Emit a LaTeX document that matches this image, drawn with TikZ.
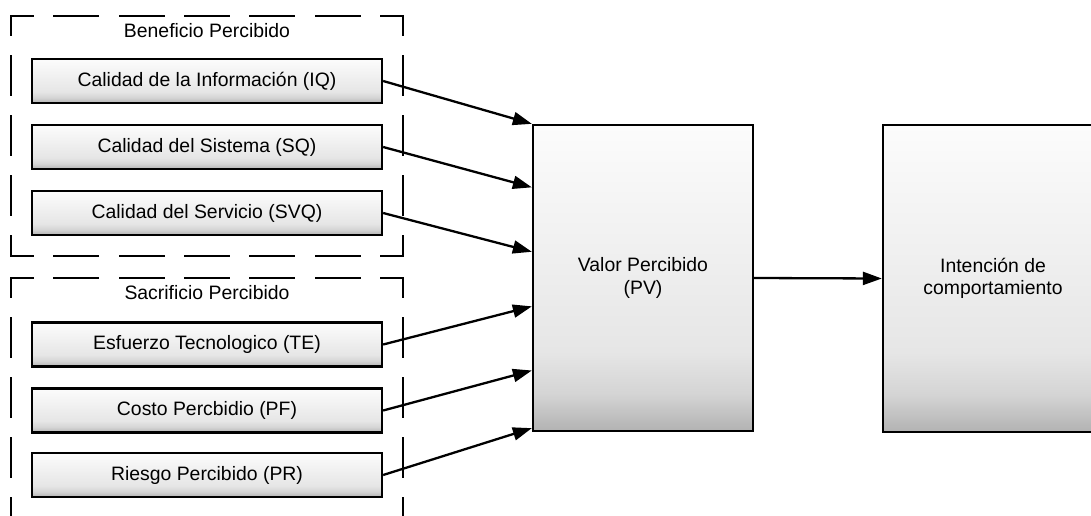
\documentclass[tikz,border=0pt]{standalone}
\usepackage{fontspec}
\setmainfont{Liberation Sans}
\usetikzlibrary{arrows.meta,calc}

% box fill: white on top, light grey body, darker grey towards the bottom
\definecolor{shadeBottom}{HTML}{B2B2B2}
\definecolor{shadeLow}{HTML}{D4D4D4}
\definecolor{shadeMid}{HTML}{E6E6E6}
\definecolor{shadeTop}{HTML}{FCFCFC}
\pgfdeclareverticalshading{boxshade}{100bp}{%
  color(0bp)=(shadeBottom); color(25bp)=(shadeBottom);
  color(31bp)=(shadeLow); color(38bp)=(shadeMid);
  color(75bp)=(shadeTop); color(100bp)=(shadeTop)}

\newcommand\boxfont{\fontsize{19.4pt}{22.5pt}\selectfont}

\tikzset{
  factor/.style={draw, line width=2.3pt, shading=boxshade, inner sep=0pt,
    minimum width=350pt, minimum height=44pt, font=\boxfont},
  bigbox/.style={draw, line width=2.3pt, shading=boxshade, inner sep=0pt,
    minimum width=220pt, minimum height=306pt, align=center, font=\boxfont},
  frame/.style={inner sep=0pt, minimum width=392pt, minimum height=240pt},
  hside/.style={line width=2.3pt, line cap=rect,
    dash pattern=on 43.6pt off 21.8pt, dash phase=21.8pt},
  vside/.style={line width=2.3pt, line cap=rect,
    dash pattern=on 39pt off 21pt, dash phase=19.5pt},
  grouptitle/.style={font=\boxfont, inner sep=0pt},
  link/.style={line width=2.3pt, -{Triangle[length=19pt,width=13pt]}}
}

\begin{document}
\begin{tikzpicture}[x=1pt,y=-1pt]
  \useasboundingbox (0,0) rectangle (1091,516);
  \clip (0,0) rectangle (1091,516);

  % dashed group frames
  \node[frame] (benefit) at (207,136) {};
  \node[frame, minimum height=241pt] (sacrifice) at (207,398.5) {};
  \foreach \g in {benefit,sacrifice}{
    \draw[hside] (\g.north west) -- (\g.north east);
    \draw[hside] (\g.south west) -- (\g.south east);
    \draw[vside] (\g.north west) -- (\g.south west);
    \draw[vside] (\g.north east) -- (\g.south east);
  }
  \node[grouptitle] (benefitTitle) at (207,31) {Beneficio Percibido};
  \node[grouptitle] (sacrificeTitle) at (207,293) {Sacrificio Percibido};

  % factor boxes
  \node[factor] (iq)  at (207,81)    {Calidad de la Información (IQ)};
  \node[factor] (sq)  at (207,147)   {Calidad del Sistema (SQ)};
  \node[factor] (svq) at (207,213)   {Calidad del Servicio (SVQ)};
  \node[factor] (te)  at (207,344.5) {Esfuerzo Tecnologico (TE)};
  \node[factor] (pf)  at (207,410.5) {Costo Percbidio (PF)};
  \node[factor] (pr)  at (207,475)   {Riesgo Percibido (PR)};

  % constructs
  \node[bigbox] (pv)  at (643,278)   {Valor Percibido\\(PV)};
  \node[bigbox, minimum height=307pt] (bi) at (993,278.5) {Intención de\\comportamiento};

  % arrow ends on the left side of the value box
  \coordinate (e1) at ($(pv.north west)!0.000!(pv.south west)$);
  \coordinate (e2) at ($(pv.north west)!0.206!(pv.south west)$);
  \coordinate (e3) at ($(pv.north west)!0.415!(pv.south west)$);
  \coordinate (e4) at ($(pv.north west)!0.592!(pv.south west)$);
  \coordinate (e5) at ($(pv.north west)!0.800!(pv.south west)$);
  \coordinate (e6) at ($(pv.north west)!0.987!(pv.south west)$);

  \draw[link] (iq.east)  -- (e1);
  \draw[link] (sq.east)  -- (e2);
  \draw[link] (svq.east) -- (e3);
  \draw[link] (te.east)  -- (e4);
  \draw[link] (pf.east)  -- (e5);
  \draw[link] (pr.east)  -- (e6);
  \draw[link] (pv.east)  -- (bi.west);
\end{tikzpicture}
\end{document}
